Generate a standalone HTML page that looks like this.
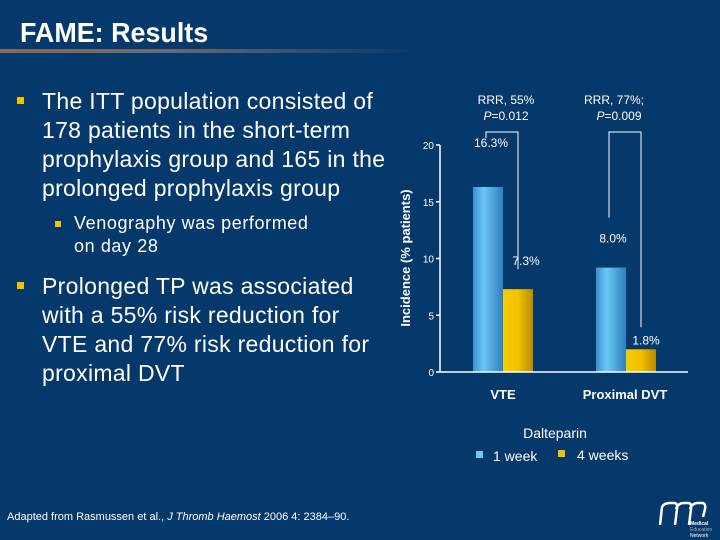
<!DOCTYPE html>
<html><head><meta charset="utf-8"><style>
body{margin:0;width:720px;height:540px;overflow:hidden;background:#05386b;font-family:"Liberation Sans",sans-serif;color:#fff;position:relative}
.l{position:absolute;white-space:nowrap;line-height:1}
.m{font-size:23px;letter-spacing:0.3px}
.s{font-size:18px;letter-spacing:0.6px}
.b{position:absolute;width:7px;height:7px;background:#f2c200}
</style></head><body>
<div class="l" style="left:20px;top:19px;font-size:28px;font-weight:bold;transform:scaleX(0.96);transform-origin:left">FAME: Results</div>
<div style="position:absolute;left:0;top:49px;width:420px;height:4px;background:linear-gradient(90deg,#8a6a55,#6a6a70 40%,rgba(5,56,107,0))"></div>

<div class="b" style="left:17px;top:97px"></div>
<div>
<div class="l m" style="left:42px;top:90px">The ITT population consisted of</div>
<div class="l m" style="left:42px;top:119px">178 patients in the short-term</div>
<div class="l m" style="left:42px;top:148px">prophylaxis group and 165 in the</div>
<div class="l m" style="left:42px;top:177px">prolonged prophylaxis group</div>
</div>
<div class="b" style="left:55px;top:221px;width:6px;height:6px"></div>
<div>
<div class="l s" style="left:74px;top:214px">Venography was performed</div>
<div class="l s" style="left:74px;top:237px">on day 28</div>
</div>
<div class="b" style="left:17px;top:282px"></div>
<div>
<div class="l m" style="left:42px;top:275px">Prolonged TP was associated</div>
<div class="l m" style="left:42px;top:304px">with a 55% risk reduction for</div>
<div class="l m" style="left:42px;top:333px">VTE and 77% risk reduction for</div>
<div class="l m" style="left:42px;top:362px">proximal DVT</div>
</div>

<div class="l" style="left:7px;top:512px;font-size:11px">Adapted from Rasmussen et al., <i>J Thromb Haemost</i> 2006 4: 2384–90.</div>

<svg style="position:absolute;left:650px;top:495px" width="70" height="45">
<path d="M10 30 L12 12 Q14 8 20 8 L24 8 Q28 8 27 14 L25 30 M26 14 Q28 8 34 8 L38 8 Q42 8 41 14 L39 30 M40 14 Q42 8 48 8 L52 8 Q56 8 55 14 L53 22" fill="none" stroke="#fff" stroke-width="2.5"/>
<text x="40" y="30" font-size="5" fill="#fff" font-weight="bold">Medical</text>
<text x="40" y="36" font-size="5" fill="#aaa">Education</text>
<text x="40" y="42" font-size="5" fill="#fff">Network</text>
</svg>

<svg id="chart" style="position:absolute;left:0;top:0" width="720" height="540">
<defs>
<linearGradient id="gb" x1="0" x2="1"><stop offset="0" stop-color="#3a8fcf"/><stop offset="0.35" stop-color="#6cc8f5"/><stop offset="1" stop-color="#2f7fbf"/></linearGradient>
<linearGradient id="gy" x1="0" x2="1"><stop offset="0" stop-color="#f5cc00"/><stop offset="0.5" stop-color="#f2c200"/><stop offset="1" stop-color="#b88a00"/></linearGradient>
</defs>
</svg>
<script>
const categories=["VTE","Proximal DVT"];
const week1=[16.3,9.2];
const week4=[7.3,2.0];
const week1Labels=["16.3%","8.0%"];
const week4Labels=["7.3%","1.8%"];
const rrrLine1=["RRR, 55%","RRR, 77%;"];
const rrrP=["=0.012","=0.009"];
const yTicks=[0,5,10,15,20];
const svg=document.getElementById('chart');
const NS='http://www.w3.org/2000/svg';
const x0=440,x1=688,yBase=372,yTop=145;
const y=v=>yBase-(v/20)*(yBase-yTop);
const catX=i=>473+i*123;
const bw=30;
function mk(t,a,txt){const e=document.createElementNS(NS,t);for(const k in a)e.setAttribute(k,a[k]);if(txt!=null)e.textContent=txt;svg.appendChild(e);return e;}
let e=mk('line',{x1:x0,x2:x0,y1:yTop,y2:yBase,stroke:'#fff','stroke-width':1.5});

yTicks.forEach(t=>{
 let tk=mk('line',{x1:x0-4,x2:x0,y1:y(t),y2:y(t),stroke:'#fff','stroke-width':1.5});
 
 let tl=mk('text',{x:x0-6,y:y(t)+4,'text-anchor':'end','font-size':10,fill:'#fff'},t);
 
});
e=mk('text',{x:0,y:0,transform:`translate(410,258) rotate(-90)`,'text-anchor':'middle','font-size':13,'font-weight':'bold',fill:'#fff'},'Incidence (% patients)');

categories.forEach((c,i)=>{
 const bx=catX(i);
 let b=mk('rect',{x:bx,y:y(week1[i]),width:bw,height:yBase-y(week1[i]),fill:'url(#gb)'});
 
 b=mk('rect',{x:bx+bw,y:y(week4[i]),width:bw,height:yBase-y(week4[i]),fill:'url(#gy)'});
 
 const lx=bx+13,rx=bx+45;
 let p=mk('path',{fill:'none',stroke:'#fff','stroke-width':1});
 if(i==0)p.setAttribute('d',`M${lx} 138 L${lx} 132 L${rx} 132 L${rx} ${y(week4[i])-20}`);
 else p.setAttribute('d',`M${lx} ${y(week1[i])-50} L${lx} 132 L${rx} 132 L${rx} ${y(week4[i])-22}`);
 
 let t=mk('text',{x:bx+(i?18:33),y:104,'text-anchor':'middle','font-size':12,fill:'#fff'},rrrLine1[i]);
 
 t=mk('text',{x:bx+(i?23:33),y:120,'text-anchor':'middle','font-size':12,fill:'#fff'});
 const ti=document.createElementNS(NS,'tspan');ti.setAttribute('font-style','italic');ti.textContent='P';t.appendChild(ti);
 t.appendChild(document.createTextNode(rrrP[i]));
 
 t=mk('text',{x:i?bx+17:bx+18,y:i?y(week1[i])-25:147,'text-anchor':'middle','font-size':12,fill:'#fff'},week1Labels[i]);
 
 t=mk('text',{x:bx+bw+(i?20:23),y:y(week4[i])-(i?5:24),'text-anchor':'middle','font-size':12,fill:'#fff'},week4Labels[i]);
 
 t=mk('text',{x:i?625:503,y:399,'text-anchor':'middle','font-size':13,'font-weight':'bold',fill:'#fff'},c);
 
});
e=mk('line',{x1:x0,x2:x1,y1:yBase,y2:yBase,stroke:'#fff','stroke-width':1.5});

e=mk('text',{x:555,y:438,'text-anchor':'middle','font-size':14,fill:'#fff'},'Dalteparin');

e=mk('rect',{x:476,y:451,width:7,height:7,fill:'#6cc8f5'});

e=mk('text',{x:493,y:461,'font-size':14,fill:'#fff'},'1 week');

e=mk('rect',{x:558,y:450,width:7,height:7,fill:'#f2c200'});

e=mk('text',{x:577,y:460,'font-size':14,fill:'#fff'},'4 weeks');

</script>
</body></html>
